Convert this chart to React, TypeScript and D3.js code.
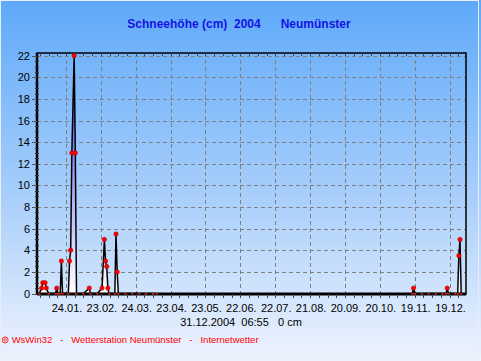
import { useEffect, useRef } from 'react';
import * as d3 from 'd3';

// snow depth readings 2004 (dd.mm, cm)
const obsDates = [
  '01.01', '03.01', '04.01', '06.01', '07.01', '09.01', '15.01', '16.01', '17.01', '19.01',
  '20.01', '21.01', '26.01', '27.01', '28.01', '29.01', '31.01', '01.02', '02.02', '08.02',
  '13.02', '14.02', '20.02', '24.02', '26.02', '27.02', '28.02', '29.02', '01.03', '06.03',
  '07.03', '08.03', '09.03', '15.03', '21.03', '27.03', '02.04', '08.04', '11.04',
  '17.11', '18.11', '19.11', '25.11', '01.12', '07.12', '13.12', '16.12', '17.12', '18.12',
  '24.12', '26.12', '27.12', '28.12', '29.12',
];
const obsValues = [
  0, 0.5, 1, 1, 0.5, 0, 0, 0.5, 0, 0,
  3, 0, 0, 3, 4, 13, 22, 13, 0, 0,
  0.5, 0, 0, 0.5, 5, 3, 2.5, 0.5, 0, 0,
  5.5, 2, 0, 0, 0, 0, 0, 0, 0,
  0, 0.5, 0, 0, 0, 0, 0, 0, 0.5, 0,
  0, 0, 3.5, 5, 0,
];

const xTickLabels = [
  '24.01.', '23.02.', '24.03.', '23.04.', '23.05.', '22.06.',
  '22.07.', '21.08.', '20.09.', '20.10.', '19.11.', '19.12.',
];
const yTicks = [0, 2, 4, 6, 8, 10, 12, 14, 16, 18, 20, 22];

const W = 481;
const H = 361;
const plot = { left: 37, top: 53, right: 466, bottom: 294 };
const font = '"Liberation Sans", Arial, sans-serif';

const App = () => {
  const ref = useRef<SVGSVGElement>(null);

  useEffect(() => {
    const svg = d3.select(ref.current);
    svg.selectAll('*').remove();

    const parse = d3.timeParse('%d.%m.%Y');
    const x = d3
      .scaleTime()
      .domain([new Date(2004, 0, 1), new Date(2004, 11, 31)])
      .range([39.3, 463.5]);
    const y = d3.scaleLinear().domain([0, 22]).range([293.5, 55.7]);

    const data = obsDates.map((d, i) => ({ date: parse(d + '.2004') as Date, value: obsValues[i] }));
    // no readings between April and November -> break the line there
    const gapStart = parse('11.04.2004') as Date;
    const gapEnd = parse('17.11.2004') as Date;
    const segments = [
      data.filter((d) => d.date <= gapStart),
      data.filter((d) => d.date >= gapEnd),
    ];

    const defs = svg.append('defs');
    const bg = defs.append('linearGradient').attr('id', 'bg').attr('x1', 0).attr('y1', 0).attr('x2', 0).attr('y2', 1);
    bg.append('stop').attr('offset', '0%').attr('stop-color', '#5ea9fa');
    bg.append('stop').attr('offset', '55%').attr('stop-color', '#a9cffb');
    bg.append('stop').attr('offset', '100%').attr('stop-color', '#eef3fd');
    const fill = defs.append('linearGradient').attr('id', 'snow').attr('x1', 0).attr('x2', 0)
      .attr('gradientUnits', 'userSpaceOnUse').attr('y1', y(22)).attr('y2', y(0));
    fill.append('stop').attr('offset', '0%').attr('stop-color', '#3a3af0');
    fill.append('stop').attr('offset', '100%').attr('stop-color', '#ffffff');

    // background + frame
    svg.append('rect').attr('width', W).attr('height', H).attr('fill', 'url(#bg)');
    svg.append('rect').attr('x', 0.5).attr('y', 0.5).attr('width', W - 3).attr('height', H - 3)
      .attr('fill', 'none').attr('stroke', '#e8eef8').attr('stroke-width', 1);

    // title
    svg.append('text')
      .attr('x', 239).attr('y', 28)
      .attr('text-anchor', 'middle')
      .style('font-family', font).style('font-size', '12px').style('font-weight', 'bold')
      .attr('fill', '#1414e6')
      .attr('xml:space', 'preserve')
      .text('Schneehöhe (cm)  2004      Neumünster');

    // grid
    const grid = svg.append('g').attr('stroke', '#808080').attr('stroke-dasharray', '4,3').attr('stroke-width', 1);
    yTicks.forEach((t) => {
      grid.append('line').attr('x1', plot.left).attr('x2', plot.right)
        .attr('y1', Math.round(y(t)) + 0.5).attr('y2', Math.round(y(t)) + 0.5);
    });
    const tickDates = xTickLabels.map((l) => parse(l + '2004') as Date);
    tickDates.forEach((d) => {
      grid.append('line').attr('y1', plot.top).attr('y2', plot.bottom)
        .attr('x1', Math.round(x(d)) + 0.5).attr('x2', Math.round(x(d)) + 0.5);
    });

    // snow area
    const area = d3.area<any>().x((d) => x(d.date)).y0(y(0)).y1((d) => y(d.value));
    const line = d3.line<any>().x((d) => x(d.date)).y((d) => y(d.value));
    segments.forEach((seg) => {
      svg.append('path').datum(seg).attr('d', area).attr('fill', 'url(#snow)');
      svg.append('path').datum(seg).attr('d', line).attr('fill', 'none')
        .attr('stroke', '#000').attr('stroke-width', 1.5);
    });

    // axis frame
    svg.append('rect').attr('x', plot.left).attr('y', plot.top)
      .attr('width', plot.right - plot.left).attr('height', plot.bottom - plot.top)
      .attr('fill', 'none').attr('stroke', '#000').attr('stroke-width', 1.5);
    svg.append('line').attr('x1', plot.left).attr('x2', plot.left).attr('y1', plot.top).attr('y2', plot.bottom + 1)
      .attr('stroke', '#000').attr('stroke-width', 2.5);
    svg.append('line').attr('x1', plot.left).attr('x2', plot.right).attr('y1', plot.bottom).attr('y2', plot.bottom)
      .attr('stroke', '#000').attr('stroke-width', 3);

    // y axis ticks + labels
    const yAxis = svg.append('g');
    d3.range(0, 22.01, 0.5).forEach((t) => {
      const major = t % 2 === 0;
      yAxis.append('line')
        .attr('x1', plot.left - (major ? 5 : 2)).attr('x2', plot.left + (major ? 0 : 2))
        .attr('y1', Math.round(y(t)) + 0.5).attr('y2', Math.round(y(t)) + 0.5)
        .attr('stroke', major ? '#555' : '#333').attr('stroke-width', 1);
    });
    yTicks.forEach((t) => {
      yAxis.append('text').attr('x', 30).attr('y', y(t) + 4)
        .attr('text-anchor', 'end')
        .style('font-family', font).style('font-size', '11px').attr('fill', '#000')
        .text(t);
    });

    // x minor ticks + labels
    const xAxis = svg.append('g');
    const step = (x(tickDates[1]) - x(tickDates[0])) / 4;
    for (let px = x(tickDates[0]) - 3 * step; px <= plot.right; px += step) {
      if (px < plot.left) continue;
      xAxis.append('line').attr('x1', Math.round(px) + 0.5).attr('x2', Math.round(px) + 0.5)
        .attr('y1', plot.bottom).attr('y2', plot.bottom + 4).attr('stroke', '#444');
      xAxis.append('line').attr('x1', Math.round(px) + 0.5).attr('x2', Math.round(px) + 0.5)
        .attr('y1', plot.top).attr('y2', plot.top + 3).attr('stroke', '#444');
    }
    tickDates.forEach((d, i) => {
      xAxis.append('text').attr('x', x(d) + 1).attr('y', 312)
        .attr('text-anchor', 'middle')
        .style('font-family', font).style('font-size', '11px').attr('fill', '#000')
        .text(xTickLabels[i]);
    });

    // markers
    const marks = svg.append('g');
    data.forEach((d) => {
      if (d.value > 0) {
        marks.append('circle').attr('cx', x(d.date)).attr('cy', y(d.value)).attr('r', 2.2)
          .attr('fill', '#ff0000').attr('stroke', '#900').attr('stroke-width', 0.5);
      } else {
        marks.append('rect').attr('x', x(d.date) - 1).attr('y', y(0) - 0.5).attr('width', 2).attr('height', 1.5)
          .attr('fill', '#ff2020');
      }
    });

    // footer texts
    svg.append('text').attr('x', 241).attr('y', 326)
      .attr('text-anchor', 'middle').attr('xml:space', 'preserve')
      .style('font-family', font).style('font-size', '11px').attr('fill', '#000')
      .text('31.12.2004  06:55   0 cm');
    svg.append('text').attr('x', 1).attr('y', 343)
      .attr('xml:space', 'preserve')
      .style('font-family', font).style('font-size', '9.5px').attr('fill', '#ff0000')
      .text('⊚ WsWin32   -   Wetterstation Neumünster   -   Internetwetter');
  }, []);

  return (
    <svg
      ref={ref}
      width={W}
      height={H}
      style={{ position: 'absolute', left: 0, top: 0, display: 'block' }}
    />
  );
};

export default App;
